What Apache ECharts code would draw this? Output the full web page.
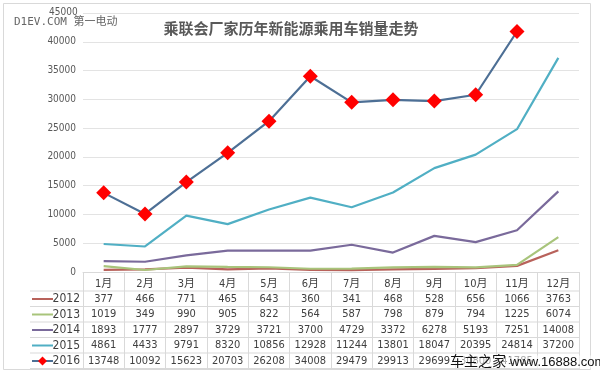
<!DOCTYPE html>
<html><head><meta charset="utf-8">
<script src="https://cdn.jsdelivr.net/npm/echarts@6/dist/echarts.min.js"></script>
<style>html,body{margin:0;padding:0;background:#fff}#c{width:600px;height:373px}</style>
</head><body><div id="c"></div>
<script>
const months = ['1月','2月','3月','4月','5月','6月','7月','8月','9月','10月','11月','12月'];
const years = ['2012','2013','2014','2015','2016'];
const s2012 = [377,466,771,465,643,360,341,468,528,656,1066,3763];
const s2013 = [1019,349,990,905,822,564,587,798,879,794,1225,6074];
const s2014 = [1893,1777,2897,3729,3721,3700,4729,3372,6278,5193,7251,14008];
const s2015 = [4861,4433,9791,8320,10856,12928,11244,13801,18047,20395,24814,37200];
const s2016 = [13748,10092,15623,20703,26208,34008,29479,29913,29699,30800,41785,null];
const yMin = 0, yMax = 45000, yStep = 5000;
const title = '乘联会厂家历年新能源乘用车销量走势';

const seriesData = [s2012, s2013, s2014, s2015, s2016];
const colors = ['#B8625B', '#A8C47B', '#7A6A9B', '#50AFC4', '#4D6F95'];
const markerColor = '#FF0000';
const FONT = "'Liberation Sans Narrow','DejaVu Sans Condensed','Noto Sans CJK SC',sans-serif";
const gridLine = '#D9D9D9';
const txt = '#404040';
const yLabelColor = '#595959';

const chart = echarts.init(document.getElementById('c'));

const xAxes = [{
  type: 'category', data: months, gridIndex: 0, position: 'bottom', boundaryGap: true,
  axisLine: { lineStyle: { color: gridLine, width: 1 } },
  axisTick: { show: true, interval: 0, length: 97, lineStyle: { color: gridLine } },
  axisLabel: { interval: 0, margin: 7, fontSize: 11, color: txt, fontFamily: FONT }
}];
seriesData.forEach((arr, i) => {
  xAxes.push({
    type: 'category', data: arr.map(v => v == null ? '' : String(v)), gridIndex: 0,
    position: 'bottom', offset: 14.5 + 15.5 * i, boundaryGap: true,
    axisLine: { show: false }, axisTick: { show: false },
    axisLabel: { interval: 0, margin: 7, fontSize: 11, color: txt, fontFamily: FONT }
  });
});

const series = seriesData.map((arr, i) => ({
  name: years[i], type: 'line', xAxisIndex: 0, yAxisIndex: 0, data: arr,
  lineStyle: { color: colors[i], width: 2.2 },
  itemStyle: { color: i === 4 ? markerColor : colors[i] },
  symbol: i === 4 ? 'diamond' : 'none', symbolSize: 15,
  showSymbol: i === 4, connectNulls: false, silent: true, animation: false, z: 2 + i
}));

const graphics = [];
graphics.push({ type: 'rect', shape: { x: 3.5, y: 3.5, width: 587, height: 366 },
  style: { fill: 'none', stroke: '#D9D9D9', lineWidth: 1 }, silent: true, z: 0 });
const rowLines = [291, 306.5, 322, 337.5, 353, 368.5];
rowLines.forEach((y) => {
  graphics.push({ type: 'line', shape: { x1: 30, y1: y, x2: 579, y2: y },
    style: { stroke: gridLine, lineWidth: 1 }, silent: true });
});
years.forEach((yr, i) => {
  const cy = 299 + 15.5 * i;
  graphics.push({ type: 'line', shape: { x1: 32, y1: cy, x2: 53, y2: cy },
    style: { stroke: colors[i], lineWidth: 2 }, silent: true });
  if (i === 4) {
    graphics.push({ type: 'polygon', shape: { points: [[42.5, cy - 4.5], [47, cy], [42.5, cy + 4.5], [38, cy]] },
      style: { fill: markerColor }, silent: true });
  }
  graphics.push({ type: 'text', x: 80, y: cy, style: { text: yr, fill: txt, font: '12px ' + FONT,
    textAlign: 'right', textVerticalAlign: 'middle' }, silent: true });
});
graphics.push({ type: 'text', x: 450, y: 361, style: { text: '车主之家 ', fill: '#111',
  font: "14px 'Noto Sans CJK SC',sans-serif", textVerticalAlign: 'middle',
  backgroundColor: 'rgba(255,255,255,0.55)' }, silent: true, z: 50 });
graphics.push({ type: 'text', x: 510, y: 362, style: { text: 'www.16888.com', fill: '#111',
  font: "13px 'Liberation Sans',sans-serif", textVerticalAlign: 'middle',
  backgroundColor: 'rgba(255,255,255,0.55)' }, silent: true, z: 50 });

chart.setOption({
  animation: false,
  backgroundColor: '#fff',
  title: { text: title, left: 286, top: 16, textAlign: 'center',
    textStyle: { fontSize: 15, fontWeight: 'bold', color: '#595959', fontFamily: "'Noto Sans CJK SC',sans-serif" } },
  grid: { left: 83, right: 21, top: 13, bottom: 101, containLabel: false },
  xAxis: xAxes,
  yAxis: { type: 'value', min: yMin, max: yMax, interval: yStep,
    axisLine: { show: false }, axisTick: { show: false },
    axisLabel: { margin: 7, fontSize: 10, color: yLabelColor, fontFamily: FONT,
      showMaxLabel: false, showMinLabel: true,
      formatter: function (v) { return String(v); } },
    splitLine: { lineStyle: { color: '#E3E3E3', width: 1 } } },
  series: series,
  graphic: graphics
});

// The top tick label is dropped by the axis layout, so place it through the axis scale.
let yTopPx = chart.convertToPixel({ yAxisIndex: 0 }, yMax);
if (Array.isArray(yTopPx)) yTopPx = yTopPx[1];
if (typeof yTopPx !== 'number' || !isFinite(yTopPx)) yTopPx = 13;
const topLabel = { type: 'text', left: 49, top: yTopPx - 6, z: 60, silent: true,
  style: { text: String(yMax), fill: yLabelColor, font: '10px ' + FONT } };
const wm = { type: 'text', x: 14, y: 22, style: { text: 'D1EV.COM 第一电动', fill: '#666',
  font: "11px 'DejaVu Sans Mono','Noto Sans CJK SC',monospace", textVerticalAlign: 'middle' }, silent: true, z: 50 };
chart.setOption({ graphic: graphics.concat([wm, topLabel]) });
</script></body></html>
